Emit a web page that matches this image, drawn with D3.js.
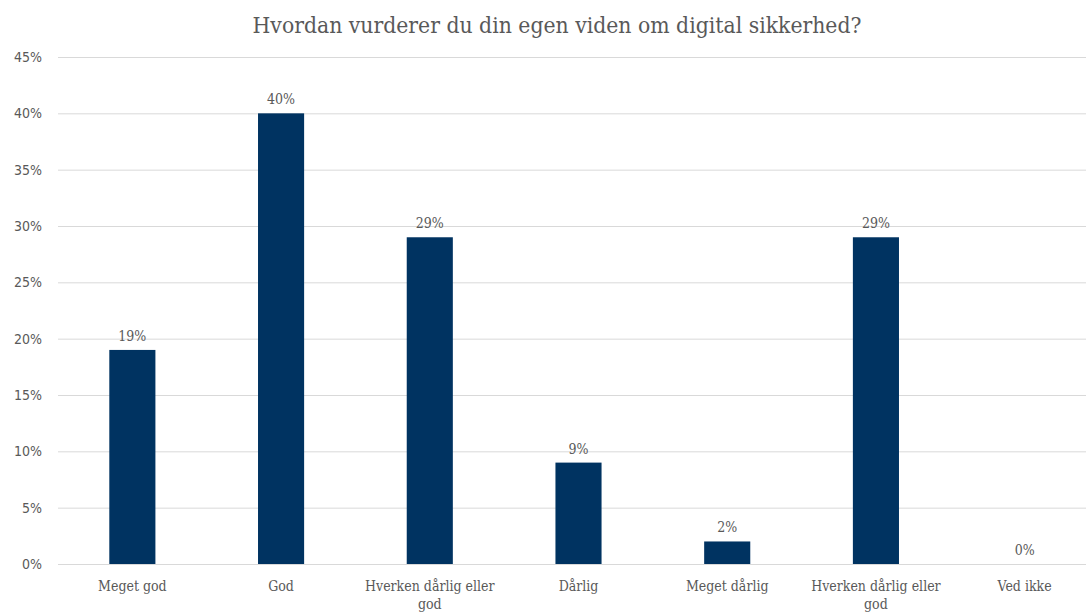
<!DOCTYPE html>
<html>
<head>
<meta charset="utf-8">
<script src="https://cdn.jsdelivr.net/npm/d3@7"></script>
<style>
  body { margin: 0; background: #fff; }
  svg text { font-family: "DejaVu Serif Condensed", "DejaVu Serif", serif; font-stretch: condensed; fill: #595959; }
</style>
</head>
<body>
<svg class="chart"></svg>
<script>
// Kategorier og værdier (procent)
var categories = ["Meget god", "God", "Hverken dårlig eller god", "Dårlig", "Meget dårlig", "Hverken dårlig eller god", "Ved ikke"];
var values = [19, 40, 29, 9, 2, 29, 0];
var yTicks = [0, 5, 10, 15, 20, 25, 30, 35, 40, 45];
var title = "Hvordan vurderer du din egen viden om digital sikkerhed?";

var W = 1086, H = 612;
var mLeft = 58, mRight = 1099, mTop = 57, mBottom = 564;

var svg = d3.select(".chart").attr("width", W).attr("height", H);

// indeks som nøgle, da to kategorier har samme tekst
var x = d3.scaleBand()
    .domain(d3.range(categories.length))
    .range([mLeft, mRight])
    .paddingInner(0.69)
    .paddingOuter(0.345);

var y = d3.scaleLinear()
    .domain([0, 45])
    .range([mBottom, mTop]);

// titel
svg.append("text")
    .attr("x", 557)
    .attr("y", 33)
    .attr("text-anchor", "middle")
    .style("font-size", "22.7px")
    .text(title);

// gitterlinjer + y-akse
var yAxis = d3.axisLeft(y)
    .tickValues(yTicks)
    .tickSize(-(mRight - mLeft))
    .tickPadding(16)
    .tickFormat(function(d){ return d + "%"; });

var gy = svg.append("g")
    .attr("transform", "translate(" + mLeft + ",0)")
    .call(yAxis);
gy.select(".domain").remove();
gy.selectAll("line").attr("stroke", "#d9d9d9").attr("stroke-width", 1);
gy.selectAll("text")
    .style("font-size", "14px")
    .style("font-family", "'DejaVu Sans Condensed', 'DejaVu Sans', sans-serif")
    .attr("fill", "#595959");

// søjler
svg.selectAll("rect.bar")
    .data(values)
  .enter().append("rect")
    .attr("class", "bar")
    .attr("x", function(d, i){ return x(i); })
    .attr("y", function(d){ return y(d); })
    .attr("width", x.bandwidth())
    .attr("height", function(d){ return y(0) - y(d); })
    .attr("fill", "#003361");

// værdietiketter
svg.selectAll("text.val")
    .data(values)
  .enter().append("text")
    .attr("class", "val")
    .attr("x", function(d, i){ return x(i) + x.bandwidth() / 2; })
    .attr("y", function(d){ return y(d) - 9; })
    .attr("text-anchor", "middle")
    .style("font-size", "14px")
    .text(function(d){ return d + "%"; });

// kategorietiketter (ombrudt som i originalen)
var maxW = 140;
svg.selectAll("text.cat")
    .data(categories)
  .enter().append("text")
    .attr("class", "cat")
    .attr("x", function(d, i){ return x(i) + x.bandwidth() / 2; })
    .attr("y", 591)
    .attr("text-anchor", "middle")
    .style("font-size", "14px")
    .each(function(d) {
      var el = d3.select(this);
      var words = d.split(" "), line = [];
      var tspan = el.append("tspan").attr("x", el.attr("x"));
      words.forEach(function(w) {
        line.push(w);
        tspan.text(line.join(" "));
        if (tspan.node().getComputedTextLength() > maxW && line.length > 1) {
          line.pop();
          tspan.text(line.join(" "));
          line = [w];
          tspan = el.append("tspan").attr("x", el.attr("x")).attr("dy", "1.25em").text(w);
        }
      });
    });
</script>
</body>
</html>
